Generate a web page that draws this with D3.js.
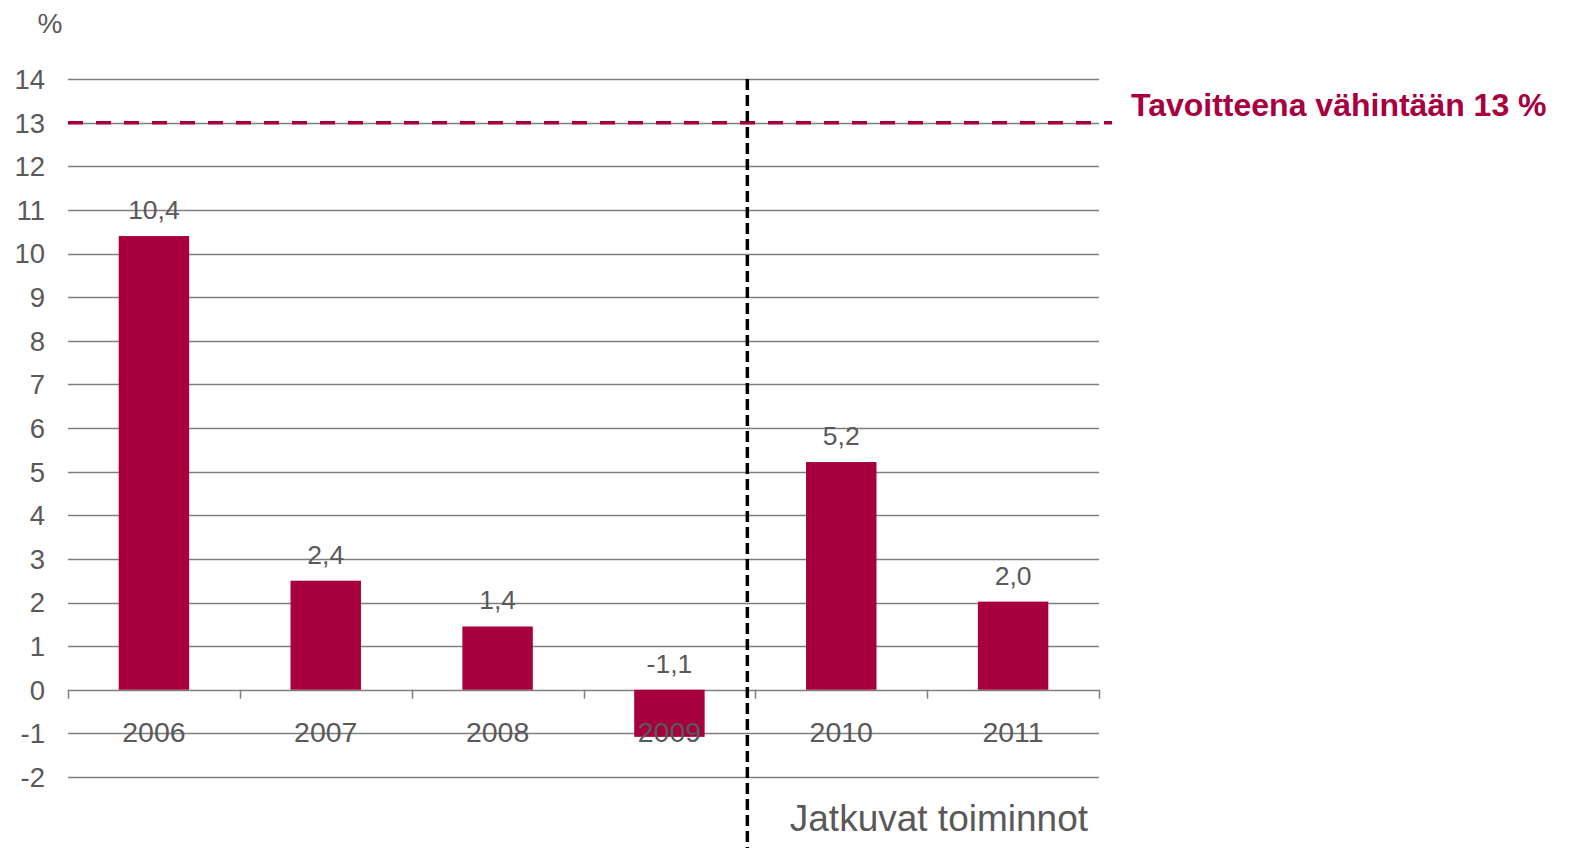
<!DOCTYPE html>
<html>
<head>
<meta charset="utf-8">
<script src="https://cdn.jsdelivr.net/npm/d3@7"></script>
<style>
  html, body { margin: 0; padding: 0; background: #fff; }
  svg { display: block; }
  text { font-family: "Liberation Sans", Arial, sans-serif; }
</style>
</head>
<body>
<svg id="chart" width="1569" height="848"></svg>
<script>
const years = ["2006", "2007", "2008", "2009", "2010", "2011"];
const values = [10.4, 2.5, 1.45, -1.08, 5.22, 2.02];
const valueLabels = ["10,4", "2,4", "1,4", "-1,1", "5,2", "2,0"];
const yTicks = [-2, -1, 0, 1, 2, 3, 4, 5, 6, 7, 8, 9, 10, 11, 12, 13, 14];
const target = 13;
const targetLabel = "Tavoitteena vähintään 13 %";
const unitLabel = "%";
const sectionLabel = "Jatkuvat toiminnot";
const splitBefore = "2010";

(function () {
const barColor = "#A8003F";
const textColor = "#595959";
const gridColor = "#7F7F7F";

const svg = d3.select("#chart");
const mLeft = 68, mRight = 1099, mTop = 79, mBottom = 777;

const x = d3.scaleBand().domain(years).range([mLeft, mRight]).paddingInner(0.59).paddingOuter(0.295);
const xb = d3.scaleBand().domain(years).range([mLeft, mRight]).padding(0);
const y = d3.scaleLinear().domain([-2, 14]).range([mBottom, mTop]);

// gridlines
svg.append("g").selectAll("line").data(yTicks).join("line")
  .attr("x1", mLeft).attr("x2", mRight)
  .attr("y1", d => Math.round(y(d)) + 0.5).attr("y2", d => Math.round(y(d)) + 0.5)
  .attr("stroke", gridColor).attr("stroke-width", 1.5);

// y axis labels
svg.append("g").selectAll("text").data(yTicks).join("text")
  .attr("x", 45).attr("y", d => y(d))
  .attr("dy", "0.36em")
  .attr("text-anchor", "end")
  .attr("font-size", 27.5)
  .attr("fill", textColor)
  .text(d => d);

svg.append("text").attr("x", 50).attr("y", 33).attr("text-anchor", "middle")
  .attr("font-size", 28).attr("fill", textColor).text(unitLabel);

// bars
svg.append("g").selectAll("rect").data(years).join("rect")
  .attr("x", d => x(d))
  .attr("width", x.bandwidth())
  .attr("y", (d, i) => y(Math.max(0, values[i])))
  .attr("height", (d, i) => Math.abs(y(values[i]) - y(0)))
  .attr("fill", barColor);

// zero axis ticks at category boundaries
const ticksAt = years.map(d => xb(d)).concat([mRight]);
svg.append("g").selectAll("line").data(ticksAt).join("line")
  .attr("x1", d => Math.round(d) + 0.5).attr("x2", d => Math.round(d) + 0.5)
  .attr("y1", y(0)).attr("y2", y(0) + 9)
  .attr("stroke", gridColor).attr("stroke-width", 1.5);

// year labels
svg.append("g").selectAll("text").data(years).join("text")
  .attr("x", d => xb(d) + xb.bandwidth() / 2)
  .attr("y", y(-1) + 9)
  .attr("text-anchor", "middle")
  .attr("font-size", 28.5)
  .attr("fill", textColor)
  .text(d => d);

// value labels
svg.append("g").selectAll("text").data(years).join("text")
  .attr("x", d => x(d) + x.bandwidth() / 2)
  .attr("y", (d, i) => y(Math.max(0, values[i])) - 17)
  .attr("text-anchor", "middle")
  .attr("font-size", 26.5)
  .attr("fill", textColor)
  .text((d, i) => valueLabels[i]);

// target line
svg.append("line")
  .attr("x1", mLeft).attr("x2", 1112)
  .attr("y1", y(target)).attr("y2", y(target))
  .attr("stroke", barColor).attr("stroke-width", 3.5)
  .attr("stroke-dasharray", "15,13");

svg.append("text")
  .attr("x", 1131).attr("y", 116)
  .attr("font-size", 32).attr("font-weight", "bold")
  .attr("fill", barColor).text(targetLabel);

// split line
const sx = xb(splitBefore) - 8;
svg.append("line")
  .attr("x1", sx).attr("x2", sx)
  .attr("y1", y(14)).attr("y2", 848)
  .attr("stroke", "#000").attr("stroke-width", 3.5)
  .attr("stroke-dasharray", "11,5");

svg.append("text")
  .attr("x", 1088).attr("y", 831)
  .attr("text-anchor", "end")
  .attr("font-size", 37)
  .attr("fill", textColor).text(sectionLabel);
})();
</script>
</body>
</html>
